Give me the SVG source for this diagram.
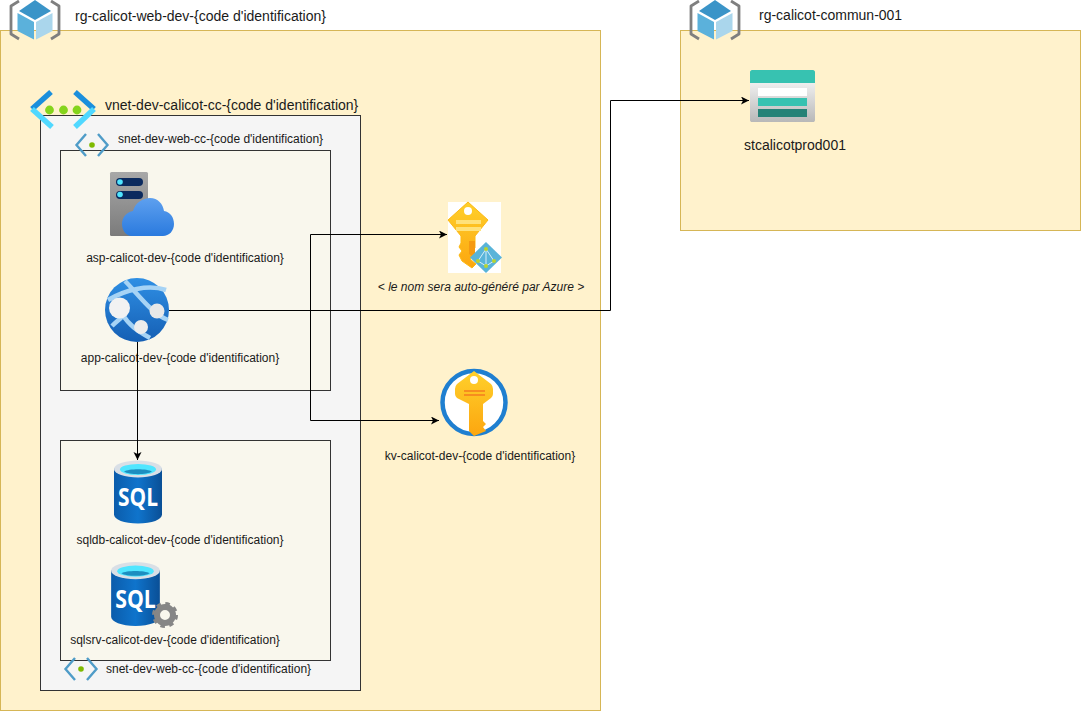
<svg xmlns="http://www.w3.org/2000/svg" xmlns:xlink="http://www.w3.org/1999/xlink" width="1081" height="711" viewBox="0 0 1081 711">
<style>
text{font-family:"Liberation Sans",Arial,sans-serif;fill:#1a1a1a}
.l{font-size:14px}
.s{font-size:12px}
.m{text-anchor:middle}
.rg{fill:#fff2cc;stroke:#d6b656;stroke-width:1}
.box{stroke:#333;stroke-width:1}
.c{fill:none;stroke:#000;stroke-width:1}
</style>
<defs>
<marker id="a" markerWidth="10" markerHeight="10" refX="8" refY="4" orient="auto" markerUnits="userSpaceOnUse"><path d="M0,0 L8,4 L0,8 L2,4 Z" fill="#000"/></marker>
<linearGradient id="gs" x1="0" y1="0" x2="0" y2="1"><stop offset="0" stop-color="#f0f0f0"/><stop offset="1" stop-color="#b8b8b8"/></linearGradient>
<linearGradient id="gsrv" x1="0" y1="0" x2="0" y2="1"><stop offset="0" stop-color="#a8a8a8"/><stop offset="1" stop-color="#7b7b7b"/></linearGradient>
<linearGradient id="gcl" x1="0" y1="0" x2="0" y2="1"><stop offset="0" stop-color="#5ea0ef"/><stop offset="1" stop-color="#2a7ade"/></linearGradient>
<linearGradient id="gweb" x1="0" y1="0" x2="0" y2="1"><stop offset="0" stop-color="#2f8fe4"/><stop offset="1" stop-color="#155fb4"/></linearGradient>
<linearGradient id="gsql" x1="0" y1="0" x2="1" y2="0"><stop offset="0" stop-color="#0b5cab"/><stop offset=".5" stop-color="#0f74cc"/><stop offset="1" stop-color="#0a4f96"/></linearGradient>
<linearGradient id="gkey" x1="0" y1="0" x2="0" y2="1"><stop offset="0" stop-color="#ffd02b"/><stop offset="1" stop-color="#fca60f"/></linearGradient>
<symbol id="cube" viewBox="0 0 50 40" width="50" height="40" overflow="visible">
<path d="M9,0 L1,5 V33 L9,38 M41,0 L49,5 V33 L41,38" fill="none" stroke="#7f7f7f" stroke-width="2.800" stroke-linejoin="round"/>
<path d="M25,-1 L41,10 L25,19 L9,10 Z" fill="#3a94c8"/>
<path d="M7.500,12 L24,21 V38.500 L7.500,30 Z" fill="#5bb1db"/>
<path d="M26,21 L42.500,12 V30 L26,38.500 Z" fill="#aad6ec"/>
</symbol>
<symbol id="snet" viewBox="0 0 34 24" width="34" height="24" overflow="visible">
<path d="M11,1 L1.500,12 L11,23 M23,1 L32.500,12 L23,23" fill="none" stroke="#4f9cc8" stroke-width="2.400"/>
<circle cx="17" cy="12" r="2.800" fill="#7fba00"/>
</symbol>
<symbol id="sql" viewBox="0 0 50 66" width="50" height="66" overflow="visible">
<path d="M1,9 V55 C1,60 11,64 25,64 C39,64 49,60 49,55 V9 Z" fill="url(#gsql)"/>
<ellipse cx="25" cy="9.500" rx="24" ry="8.500" fill="#d9dfe6"/>
<ellipse cx="25" cy="10" rx="18" ry="5.500" fill="#50e6ff"/>
<path d="M11,12 C16,9 34,9 39,12 C34,15.500 16,15.500 11,12Z" fill="#1d8ec0"/>
<text x="25" y="46" text-anchor="middle" textLength="40" lengthAdjust="spacingAndGlyphs" style="font-family:'Open Sans',sans-serif;font-weight:bold;font-size:25px;fill:#fff">SQL</text>
</symbol>
</defs>

<g id="rg-web">
<rect class="rg" x="0.5" y="30.5" width="600" height="680"/>
<use xlink:href="#cube" x="10" y="1"/>
<text class="l" x="75" y="21">rg-calicot-web-dev-{code d'identification}</text>
</g>
<g id="rg-commun">
<rect class="rg" x="680.5" y="30.5" width="400" height="200"/>
<use xlink:href="#cube" x="690" y="1"/>
<text class="l" x="759" y="20">rg-calicot-commun-001</text>
</g>
<g id="vnet">
<rect class="box" x="40.5" y="115.5" width="320" height="575" fill="#f5f5f5"/>
<path d="M51,92 L32,109" stroke="#1b8fdc" stroke-width="5.500" fill="none"/>
<path d="M32,109 L52,127" stroke="#50d8ff" stroke-width="5.500" fill="none"/>
<path d="M75,92 L94,109" stroke="#1b8fdc" stroke-width="5.500" fill="none"/>
<path d="M94,109 L75,127" stroke="#50d8ff" stroke-width="5.500" fill="none"/>
<circle cx="49.500" cy="110" r="4.400" fill="#85d41c"/><circle cx="63.500" cy="110" r="4.400" fill="#85d41c"/><circle cx="77" cy="110" r="4.400" fill="#85d41c"/>
<text class="l" x="105" y="110">vnet-dev-calicot-cc-{code d'identification}</text>
</g>
<g id="snet-web">
<rect class="box" x="60.5" y="150.5" width="270" height="240" fill="#f9f7ed"/>
<use xlink:href="#snet" x="75" y="133"/>
<text class="s" x="118" y="143">snet-dev-web-cc-{code d'identification}</text>
</g>
<g id="snet-db">
<rect class="box" x="60.5" y="440.5" width="270" height="220" fill="#f9f7ed"/>
<use xlink:href="#snet" x="64" y="657"/>
<text class="s" x="106" y="673">snet-dev-web-cc-{code d'identification}</text>
</g>

<g id="asp">
<rect x="110" y="172" width="38" height="64" rx="1.500" fill="url(#gsrv)"/>
<rect x="116" y="178" width="27" height="8" rx="4" fill="#0b2a5e"/><rect x="116" y="191" width="27" height="8" rx="4" fill="#0b2a5e"/>
<circle cx="120" cy="182" r="2.800" fill="#50e6ff"/><circle cx="120" cy="194.500" r="2.800" fill="#50e6ff"/>
<path d="M132,236 C125,236 122,229 122,224 C122,217 127,212 133,211 C135,203 143,198 150,198 C158,198 163,204 164,211 C170,212 174,217 174,224 C174,231 169,236 163,236 Z" fill="url(#gcl)"/>
<text class="s m" x="185" y="262">asp-calicot-dev-{code d'identification}</text>
</g>
<g id="app">
<circle cx="137" cy="310" r="32" fill="url(#gweb)"/>
<path d="M125,281 C138,294 152,314 168,320 M108,300 C125,290 148,284 166,290 M112,326 C118,320 122,318 124,314 M122,314 C130,326 136,330 150,338" fill="none" stroke="#a6d3f5" stroke-width="4.500"/>
<circle cx="119.500" cy="308" r="10.500" fill="#f2f2f2"/><circle cx="157" cy="311" r="7.500" fill="#e8e8e8"/><circle cx="141" cy="327" r="7" fill="#ececec"/>
<text class="s m" x="180" y="362">app-calicot-dev-{code d'identification}</text>
</g>
<g id="sqldb">
<use xlink:href="#sql" x="113" y="459.500"/>
<text class="s m" x="180" y="544">sqldb-calicot-dev-{code d'identification}</text>
</g>
<g id="sqlsrv">
<use xlink:href="#sql" x="110" y="561" width="51" height="67"/>
<circle cx="165" cy="615" r="8" fill="none" stroke="#868686" stroke-width="6"/>
<circle cx="165" cy="615" r="11.500" fill="none" stroke="#868686" stroke-width="3" stroke-dasharray="4.500 4.530"/>
<text class="s m" x="175" y="644">sqlsrv-calicot-dev-{code d'identification}</text>
</g>
<g id="key-id">
<rect x="448" y="202" width="53" height="71" fill="#fff"/>
<path d="M468,202 L488,220 L475,236 V248 L471,251 L473,255 L470,259 L476,264 L472,268 L462,261 L459,255 L462,251 L459,247 L461,243 V236 L448,220 Z" fill="url(#gkey)" stroke="#fdb913" stroke-width="1" stroke-linejoin="round"/>
<path d="M469,241 H475 V258 L469,254 Z" fill="#f59a12"/>
<circle cx="468" cy="211" r="4" fill="#fff"/>
<rect x="456" y="220" width="25" height="4" fill="#ffe27a"/><rect x="456" y="227" width="25" height="4" fill="#ffe27a"/>
<path d="M486,242 L502,257.500 L486,273 L470,257.500 Z" fill="#59b4d9"/>
<path d="M486,249 L478,261 L486,266 L494,261 Z M486,249 V266" fill="none" stroke="#d8eef8" stroke-width="1"/>
<circle cx="486" cy="249" r="2" fill="#b8d432"/><circle cx="478" cy="261" r="2" fill="#b8d432"/><circle cx="494" cy="261" r="2" fill="#b8d432"/><circle cx="486" cy="266" r="2" fill="#b8d432"/>
<text class="s m" x="481" y="291" style="font-style:italic">&lt; le nom sera auto-généré par Azure &gt;</text>
</g>
<g id="kv">
<circle cx="474" cy="402.500" r="31.500" fill="#fff" stroke="#1f7fd0" stroke-width="4.500"/>
<path d="M474,371 L491,384 Q493,386 493,389 V394 Q493,396 491,398 L483,404 V421 L486,424 L483,427 L486,431 L474,436 L469,431 V404 L457,398 Q455,396 455,394 V389 Q455,386 457,384 Z" fill="url(#gkey)"/>
<circle cx="474" cy="380" r="4" fill="#fff"/>
<rect x="464" y="390" width="21" height="2" fill="#f78d1e"/><rect x="464" y="394" width="21" height="2" fill="#f78d1e"/>
<text class="s m" x="480" y="460">kv-calicot-dev-{code d'identification}</text>
</g>
<g id="storage">
<path d="M750,82 H815 V120 C815,121.500 814,122 813,122 H752 C751,122 750,121.500 750,120 Z" fill="url(#gs)"/>
<path d="M752,70 H813 C814,70 815,71 815,72 V83 H750 V72 C750,71 751,70 752,70 Z" fill="#37c2b1"/>
<rect x="758" y="88" width="49" height="8" fill="#fff"/><rect x="758" y="98" width="49" height="8" fill="#37c2b1"/><rect x="758" y="109" width="49" height="8" fill="#258277"/>
<text class="l m" x="795" y="150">stcalicotprod001</text>
</g>

<g id="connectors">
<path class="c" d="M169,310.500 H610.500 V100.500 H749" marker-end="url(#a)"/>
<path class="c" d="M310.500,310 V234.500 H447" marker-end="url(#a)"/>
<path class="c" d="M310.500,310 V420.500 H439" marker-end="url(#a)"/>
<path class="c" d="M137.500,342 V460" marker-end="url(#a)"/>
</g>
</svg>
